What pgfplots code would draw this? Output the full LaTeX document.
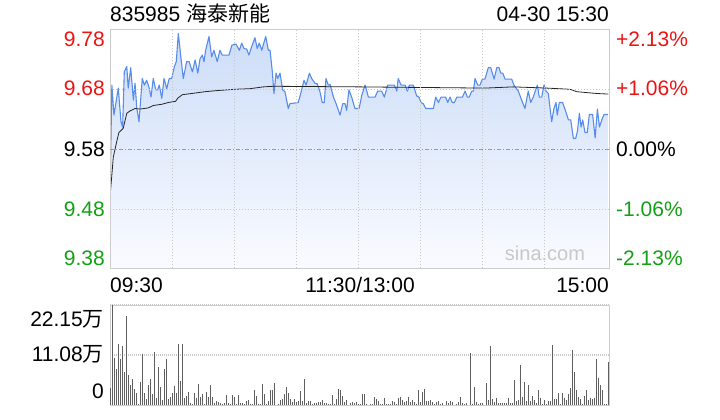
\documentclass[border=0pt]{standalone}
\usepackage{pgfplots}
\pgfplotsset{compat=1.18}
\usepackage{fontspec}
\setmainfont{Liberation Sans}
\newfontfamily\cjk{Noto Sans CJK SC}
\definecolor{upred}{RGB}{235,20,20}
\definecolor{dngreen}{RGB}{20,160,20}
\definecolor{pline}{RGB}{88,140,236}
\definecolor{filltop}{RGB}{204,221,248}
\definecolor{fillbot}{RGB}{250,251,255}
\definecolor{frame}{RGB}{205,205,205}
\definecolor{gridc}{RGB}{200,200,200}
\definecolor{volc}{RGB}{95,95,95}
\definecolor{wm}{RGB}{200,200,200}

\pgfplotstableread{
m p
0 9.500
0.9 9.687
1.9 9.637
4.0 9.682
5.3 9.626
6.1 9.617
6.9 9.709
8.1 9.718
8.8 9.682
10.0 9.716
11.3 9.662
12.1 9.690
12.9 9.650
14.0 9.626
15.6 9.698
16.6 9.687
17.7 9.695
18.8 9.684
19.8 9.667
20.9 9.698
22.1 9.679
23.0 9.679
23.8 9.687
25.0 9.665
26.1 9.698
27.4 9.681
28.6 9.698
29.8 9.698
31.1 9.718
32.0 9.726
33.0 9.773
34.3 9.731
35.4 9.698
37.0 9.726
38.2 9.726
39.8 9.709
41.1 9.729
42.4 9.707
43.5 9.731
44.6 9.737
45.4 9.726
46.2 9.745
47.8 9.768
49.1 9.734
50.2 9.745
51.8 9.726
53.1 9.745
54.2 9.737
57.5 9.737
58.8 9.753
60.0 9.755
60.9 9.755
62.5 9.745
63.6 9.757
64.7 9.748
66.0 9.747
67.1 9.737
68.4 9.751
70.0 9.766
71.1 9.748
72.1 9.757
73.3 9.745
75.2 9.768
76.5 9.745
77.3 9.745
78.4 9.709
79.2 9.673
80.2 9.707
81.0 9.698
82.1 9.707
83.4 9.679
84.5 9.676
86.1 9.648
86.9 9.656
90.9 9.658
92.1 9.673
93.7 9.695
94.7 9.687
96.3 9.707
97.4 9.698
99.0 9.690
100.1 9.689
101.4 9.676
102.5 9.658
103.5 9.658
104.3 9.698
105.4 9.687
106.3 9.688
107.9 9.667
109.2 9.656
111.1 9.637
112.4 9.656
113.5 9.656
114.3 9.645
115.4 9.679
116.7 9.667
118.3 9.648
120.3 9.648
121.6 9.670
123.2 9.687
124.8 9.667
128.0 9.667
129.3 9.677
131.2 9.677
132.5 9.667
134.1 9.687
137.3 9.687
138.5 9.677
139.2 9.698
140.6 9.687
142.5 9.687
143.6 9.677
144.6 9.687
146.5 9.687
148.1 9.669
149.2 9.667
150.2 9.658
151.3 9.656
152.5 9.648
156.2 9.648
157.3 9.667
158.6 9.658
159.9 9.667
162.1 9.667
163.1 9.658
164.2 9.667
165.3 9.658
166.3 9.658
167.5 9.667
170.2 9.667
171.5 9.677
172.6 9.667
173.5 9.667
174.7 9.677
175.5 9.677
176.3 9.698
177.6 9.687
178.7 9.687
179.8 9.697
181.1 9.697
182.7 9.716
183.9 9.716
185.5 9.697
186.8 9.716
187.9 9.716
188.7 9.707
189.7 9.707
190.8 9.697
194.0 9.697
195.1 9.687
197.2 9.677
198.8 9.662
200.4 9.648
202.0 9.677
203.2 9.658
204.4 9.667
206.4 9.687
207.3 9.667
208.5 9.667
209.6 9.687
210.6 9.677
211.7 9.673
213.3 9.626
214.4 9.648
215.4 9.658
216.0 9.637
217.0 9.658
218.6 9.658
220.2 9.642
221.4 9.629
222.5 9.629
223.8 9.598
224.9 9.598
225.7 9.609
226.7 9.640
227.5 9.617
228.3 9.629
229.4 9.608
230.5 9.608
231.5 9.638
233.1 9.638
234.3 9.599
235.4 9.647
236.4 9.617
237.5 9.629
238.6 9.638
240.4 9.638
}\pricetable

\pgfplotstableread{
m p
0 9.500
1.6 9.567
3.2 9.592
4.3 9.608
6.4 9.615
8.1 9.640
9.7 9.644
12.1 9.648
14.5 9.647
18.5 9.649
20.9 9.653
25.0 9.655
28.2 9.658
31.7 9.660
32.7 9.665
34.9 9.671
39.5 9.673
45.9 9.676
52.3 9.678
60.4 9.680
67.6 9.681
74.0 9.684
78.9 9.685
120.8 9.684
181.1 9.682
194.8 9.684
210.9 9.682
222.2 9.680
225.4 9.676
235.1 9.673
240.7 9.672
}\avgtable

\begin{document}
\begin{tikzpicture}
\path[use as bounding box] (0,0) rectangle (720bp,420bp);
% price panel
\begin{axis}[
  at={(110bp,151.7bp)}, anchor=south west, scale only axis,
  width=499bp, height=238.6bp,
  xmin=0, xmax=241, ymin=9.3817, ymax=9.7793,
  axis line style={draw=frame, line width=0.8bp},
  xtick={30,60,90,120,150,180,210}, ytick={9.48,9.68},
  xticklabels={}, yticklabels={},
  major tick length=0pt,
  grid=major,
  major grid style={draw=gridc, line width=0.8bp, dash pattern=on 1bp off 2bp},
  extra y ticks={9.58}, extra y tick labels={},
  extra y tick style={grid=major, major grid style={draw=black!40, line width=0.8bp, dash pattern=on 4bp off 2bp on 1bp off 2bp}},
  axis on top=true,
]
\addplot[draw=none, top color=filltop, bottom color=fillbot] table[x=m,y=p] {\pricetable} \closedcycle;
\addplot[pline, line width=1.1bp, line join=round] table[x=m,y=p] {\pricetable};
\addplot[black!85, line width=0.8bp] table[x=m,y=p] {\avgtable};
\end{axis}
% volume panel
\begin{axis}[
  at={(110bp,15bp)}, anchor=south west, scale only axis,
  width=499bp, height=100bp,
  xmin=0.5, xmax=250.5, ymin=0, ymax=22.15,
  axis line style={draw=frame, line width=0.8bp},
  xtick=\empty, ytick={11.075,22.15}, yticklabels={},
  major tick length=0pt,
  ymajorgrids,
  major grid style={draw=gridc, line width=1.5bp, dash pattern=on 1bp off 1bp},
]
\addplot[ycomb, draw=volc, line width=1bp] coordinates {
(1,3.69)(2,22.15)(3,10.48)(4,7.97)(5,13.44)(6,10.19)(7,13.07)(8,7.24)(9,19.71)(10,6.64)
(11,4.43)(12,5.76)(13,3.54)(14,2.73)(15,0.15)(16,5.09)(17,11.22)(18,2.73)(19,1.33)(20,4.43)
(21,5.76)(22,2.44)(23,11.74)(24,1.62)(25,8.42)(26,4.06)(27,1.11)(28,7.97)(29,10.19)(30,1.33)
(31,1.77)(32,2.73)(33,4.21)(34,2.73)(35,13.44)(36,5.32)(37,13.44)(38,1.62)(39,1.99)(40,2.88)
(41,0.52)(42,0.15)(43,2.73)(44,1.62)(45,4.65)(46,1.77)(47,2.44)(48,0.22)(49,2.88)(50,1.77)
(51,4.43)(52,1.77)(53,0.52)(54,0.89)(55,0.74)(56,0.52)(57,0.30)(58,0.52)(59,2.21)(60,0.52)
(61,0.22)(62,2.21)(63,1.77)(64,0.30)(65,2.21)(66,0.52)(67,0.52)(68,0.30)(69,0.89)(70,1.03)
(71,0.15)(72,0.22)(73,3.32)(74,1.99)(75,0.15)(76,0.30)(77,4.65)(78,2.44)(79,0.22)(80,0.89)
(81,3.25)(82,3.32)(83,4.95)(84,0.07)(85,0.15)(86,1.03)(87,1.26)(88,2.36)(89,3.91)(90,2.58)
(91,1.33)(92,0.59)(93,1.26)(94,0.59)(95,0.89)(96,3.03)(97,0.89)(98,5.76)(99,0.44)(100,0.89)
(101,0.89)(102,0.15)(103,0.44)(104,0.44)(105,0.59)(106,0.66)(107,1.03)(108,0.52)(109,0.52)(110,0.15)
(111,0.22)(112,2.21)(113,0.22)(114,1.33)(115,3.54)(116,3.25)(117,1.99)(118,0.66)(119,1.03)(120,0.07)
(121,0.52)(122,0.59)(123,0.44)(124,0.66)(125,0.22)(126,0.15)(127,2.44)(128,2.44)(129,0.22)(130,0.07)
(131,0.22)(132,0.22)(133,1.77)(134,1.33)(135,0.89)(136,0.22)(137,0.22)(138,1.55)(139,0.22)(140,0.22)
(141,0.22)(142,0.89)(143,0.66)(144,0.22)(145,1.55)(146,1.77)(147,1.11)(148,0.66)(149,0.89)(150,1.77)
(151,0.66)(152,1.11)(153,0.66)(154,0.22)(155,3.32)(156,0.66)(157,2.88)(158,3.54)(159,0.89)(160,0.89)
(161,1.11)(162,0.66)(163,0.22)(164,0.66)(165,0.89)(166,0.22)(167,0.44)(168,0.07)(169,0.89)(170,0.44)
(171,0.89)(172,0.66)(173,0.07)(174,0.22)(175,0.66)(176,1.77)(177,0.44)(178,0.22)(179,0.44)(180,0.07)
(181,11.59)(182,0.22)(183,3.99)(184,0.66)(185,0.22)(186,0.44)(187,0.44)(188,0.07)(189,4.87)(190,1.11)
(191,13.07)(192,1.33)(193,0.66)(194,1.55)(195,0.44)(196,0.44)(197,0.44)(198,0.44)(199,0.44)(200,1.55)
(201,0.44)(202,0.44)(203,5.54)(204,0.89)(205,1.11)(206,8.86)(207,1.77)(208,5.09)(209,0.89)(210,4.43)
(211,0.89)(212,1.99)(213,1.11)(214,0.44)(215,3.32)(216,1.55)(217,0.22)(218,1.11)(219,0.22)(220,0.89)
(221,0.89)(222,13.29)(223,1.33)(224,1.33)(225,2.66)(226,0.22)(227,2.66)(228,1.55)(229,1.11)(230,2.44)
(231,3.77)(232,12.18)(233,7.31)(234,3.32)(235,1.77)(236,1.33)(237,0.22)(238,1.99)(239,3.32)(240,1.11)
(241,1.55)(242,1.33)(243,1.55)(244,10.19)(245,5.98)(246,4.43)(247,3.32)(248,0.22)(249,0.22)(250,9.52)
};
\end{axis}
% texts
\fontsize{21bp}{24bp}\selectfont
\node[anchor=base west, inner sep=0] at (110bp,398.3bp) {835985 {\cjk 海泰新能}};
\node[anchor=base east, inner sep=0] at (609bp,398.3bp) {04-30 15:30};
\node[anchor=base east, inner sep=0, text=upred] at (105bp,373.3bp) {9.78};
\node[anchor=base east, inner sep=0, text=upred] at (105bp,324.3bp) {9.68};
\node[anchor=base east, inner sep=0] at (105bp,263.8bp) {9.58};
\node[anchor=base east, inner sep=0, text=dngreen] at (105bp,203.8bp) {9.48};
\node[anchor=base east, inner sep=0, text=dngreen] at (105bp,154.3bp) {9.38};
\node[anchor=base west, inner sep=0, text=upred] at (616bp,373.3bp) {+2.13\%};
\node[anchor=base west, inner sep=0, text=upred] at (616bp,324.3bp) {+1.06\%};
\node[anchor=base west, inner sep=0] at (616bp,263.8bp) {0.00\%};
\node[anchor=base west, inner sep=0, text=dngreen] at (616bp,203.8bp) {-1.06\%};
\node[anchor=base west, inner sep=0, text=dngreen] at (616bp,154.3bp) {-2.13\%};
\node[anchor=base west, inner sep=0] at (110bp,127.8bp) {09:30};
\node[anchor=base, inner sep=0] at (360bp,127.8bp) {11:30/13:00};
\node[anchor=base east, inner sep=0] at (609bp,127.8bp) {15:00};
\node[anchor=base east, inner sep=0] at (104bp,93bp) {22.15{\cjk 万}};
\node[anchor=base east, inner sep=0] at (104bp,58bp) {11.08{\cjk 万}};
\node[anchor=base east, inner sep=0] at (104bp,22bp) {0};
\node[anchor=base, inner sep=0, text=wm, font=\fontsize{20bp}{24bp}\selectfont] at (545bp,159bp) {sina.com};
\end{tikzpicture}
\end{document}
